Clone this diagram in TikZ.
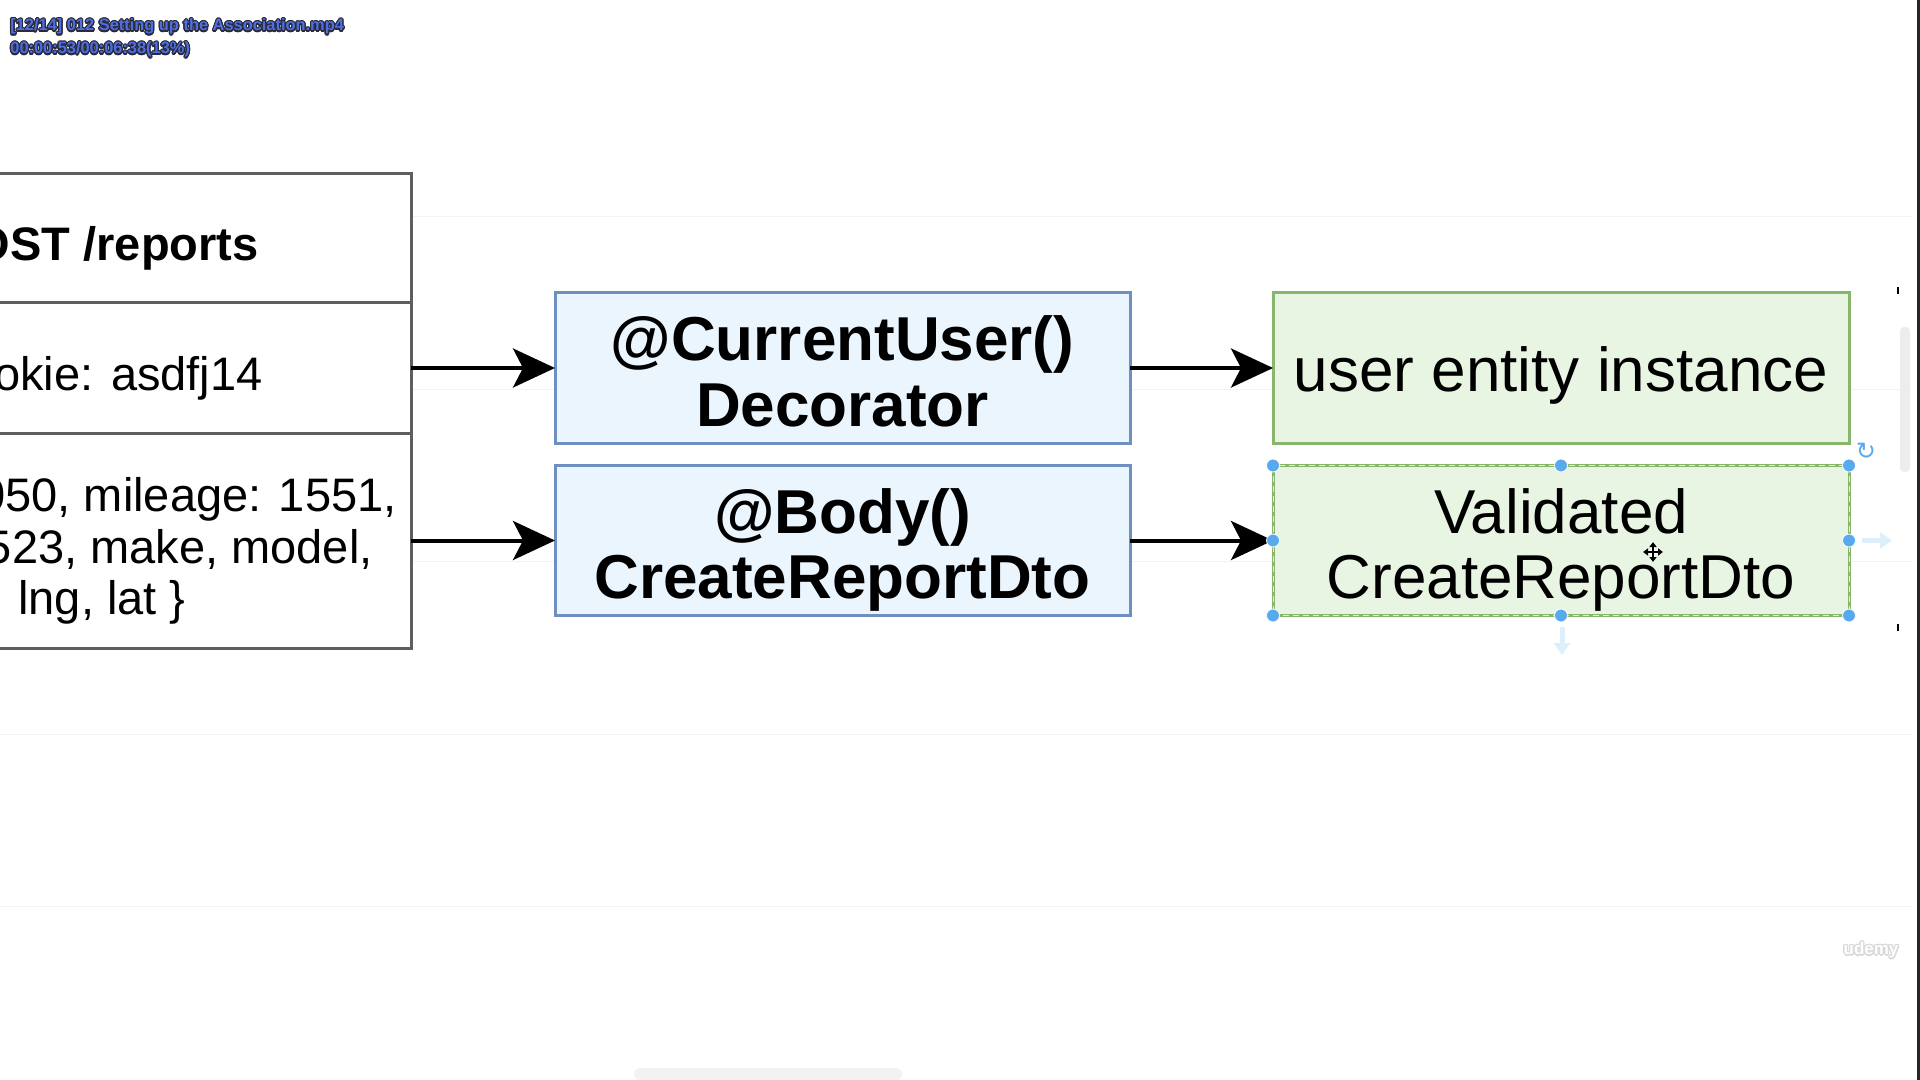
\documentclass[tikz,border=0pt]{standalone}
\usepackage{fontspec}
\setmainfont{Liberation Sans}
\newfontfamily\dejavu{DejaVu Sans}
\usepackage{contour}
\contourlength{0.6pt}
\contournumber{16}
\usetikzlibrary{arrows.meta}
\definecolor{leftgray}{HTML}{5E5E5E}
\definecolor{bluefill}{HTML}{EBF5FD}
\definecolor{blueborder}{HTML}{6E8FC0}
\definecolor{greenfill}{HTML}{E9F5E3}
\definecolor{greenborder}{HTML}{88B66C}
\definecolor{handleblue}{HTML}{58A9EE}
\definecolor{paleblue}{HTML}{DCEFFB}
\definecolor{gridgray}{HTML}{F3F3F3}
\definecolor{overlayblue}{HTML}{4D6FE2}
\definecolor{overlaydark}{HTML}{2A2A3A}
\tikzset{
  leftsec/.style={draw=leftgray, line width=1.5pt, fill=white, minimum width=313pt, inner sep=0pt, outer sep=0pt},
  bluebox/.style={draw=blueborder, fill=bluefill, line width=1.5pt, minimum width=287.5pt, minimum height=75pt,
    inner sep=0pt, outer sep=0pt, align=center, font=\fontsize{31}{32.5}\selectfont\bfseries},
  greenbox/.style={draw=greenborder, fill=greenfill, line width=1.5pt, minimum width=288pt, minimum height=75pt,
    inner sep=0pt, outer sep=0pt, align=center, font=\fontsize{31}{32.5}\selectfont},
  flow/.style={line width=2pt, -{Stealth[length=21pt,width=19.5pt,inset=5pt]}},
  lefttext/.style={anchor=base east, inner sep=0pt, font=\fontsize{23.5}{26}\selectfont},
  handle/.style={circle, fill=handleblue, draw=white, line width=0.4pt, inner sep=0pt, minimum size=6.5pt},
  overlay/.style={anchor=base west, inner sep=0pt, font=\fontsize{8.2}{10}\selectfont\bfseries, text=overlayblue},
  faintarrow/.style={draw=paleblue, line width=2.5pt, -{Triangle[length=6pt,width=8pt]}},
  cursorarrow/.style={line width=0.8pt, -{Triangle[length=2.5pt,width=3.5pt]}}
}
\begin{document}
\begin{tikzpicture}[x=0.5pt,y=-0.5pt]
\useasboundingbox (0,0) rectangle (1920,1080);
\clip (0,0) rectangle (1920,1080);
\fill[white] (0,0) rectangle (1920,1080);

% faint canvas grid lines
\foreach \gy in {217,389,561,734,906}
  \draw[gridgray, line width=0.5pt] (0,\gy) -- (1912,\gy);

% left request box (three stacked sections, cut by the left edge)
\node[leftsec, minimum height=64.5pt] (sec1) at (98,238.5) {};
\node[leftsec, minimum height=65pt] (sec2) at (98,368) {};
\node[leftsec, minimum height=107.5pt] (sec3) at (98,540.5) {};
\node[lefttext, font=\fontsize{23.5}{26}\selectfont\bfseries] (t1) at (259,261) {OST /reports};
\node[lefttext] (t2) at (263,390) {okie: asdfj14};
\node[lefttext] (t3) at (397,511) {050, mileage: 1551,};
\node[lefttext] (t4) at (373,563) {523, make, model,};
\node[lefttext] (t5) at (186,614) {lng, lat \}};

% blue decorator boxes
\node[bluebox] (cu) at (842.5,368) {\rule{0pt}{33.5pt}@CurrentUser()\\Decorator\rule[-8pt]{0pt}{8pt}};
\node[bluebox] (body) at (842.5,540.5) {\rule{0pt}{33.5pt}@Body()\\CreateReportDto\rule[-8pt]{0pt}{8pt}};

% green result boxes
\node[greenbox] (user) at (1561,368) {\rule{0pt}{30pt}user entity instance\rule[-7pt]{0pt}{7pt}};
\node[greenbox] (dto) at (1561,540.5) {\rule{0pt}{33.5pt}Validated\\CreateReportDto\rule[-8pt]{0pt}{8pt}};
\draw[white!75!greenborder, line width=0.5pt, dash pattern=on 3pt off 2pt] (dto.north west) rectangle (dto.south east);

% connectors
\draw[flow] (sec2.east) -- (cu.west);
\draw[flow] (sec3.east) -- (body.west);
\draw[flow] (cu.east) -- (user.west);
\draw[flow] (body.east) -- (dto.west);

% selection handles on the selected box
\foreach \a in {north west,north,north east,west,east,south west,south,south east}
  \node[handle] at (dto.\a) {};
\node[text=handleblue, inner sep=0pt, font=\dejavu\fontsize{12}{12}\selectfont] (rot) at (1866,451) {↻};
\coordinate (farA) at (1862,540.5);
\coordinate (farB) at (1892,540.5);
\coordinate (fdA) at (1562,627);
\coordinate (fdB) at (1562,655);
\draw[faintarrow] (farA) -- (farB);
\draw[faintarrow] (fdA) -- (fdB);

% move cursor
\coordinate (mc) at (1653,552);
\foreach \dx/\dy in {10/0,-10/0,0/10,0/-10}{
  \draw[white, line width=2pt] (mc) -- ++(\dx,\dy);
}
\foreach \dx/\dy in {10/0,-10/0,0/10,0/-10}{
  \draw[cursorarrow] (mc) -- ++(\dx,\dy);
}

% right-hand window details
\fill[gray!14, rounded corners=2pt] (1900,327) rectangle (1910,472);
\fill[black] (1897,287) rectangle (1899,294);
\fill[black] (1897,624) rectangle (1899,631);
\fill[black!85] (1917,0) rectangle (1920,1080);
\fill[gray!10, rounded corners=3pt] (634,1068) rectangle (902,1080);

% video player overlay text
\node[overlay] (ov1) at (10,31) {\contour{overlaydark}{[12/14] 012 Setting up the Association.mp4}};
\node[overlay] (ov2) at (10,54) {\contour{overlaydark}{00:00:53/00:06:38(13\%)}};

% watermark
\node[inner sep=0pt, font=\fontsize{8.5}{10}\selectfont\bfseries, text=white] (wm) at (1871,951) {\contour{gray!30}{udemy}};
\end{tikzpicture}
\end{document}
